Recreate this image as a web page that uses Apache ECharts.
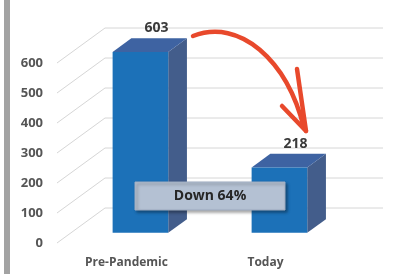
<!DOCTYPE html>
<html>
<head>
<meta charset="utf-8">
<script src="https://cdn.jsdelivr.net/npm/echarts@6/dist/echarts.min.js"></script>
<style>
  html, body { margin: 0; padding: 0; background: #ffffff; }
  #riders_chart { width: 395px; height: 274px; }
</style>
</head>
<body>
<div id="riders_chart"></div>
<script>
var categories = ['Pre-Pandemic', 'Today'];
var values = [603, 218];
var yTicks = [0, 100, 200, 300, 400, 500, 600];
var noteText = 'Down 64%';

// depth of the floor (front edge -> back wall), and where the bars sit in it
var DEPTH = [48, -35];
var BAR_SHIFT = 0.29;
var BAR_DEPTH = 0.39;

function wall_lines(params, api) {
    var cs = params.coordSys;
    var p = api.coord([0, api.value(1)]);
    return {
        type: 'polyline',
        shape: { points: [
            [cs.x, p[1]],
            [cs.x + DEPTH[0], p[1] + DEPTH[1]],
            [cs.x + cs.width + DEPTH[0], p[1] + DEPTH[1]]
        ] },
        style: { stroke: '#d6d6d6', lineWidth: 1, fill: null },
        silent: true
    };
}

function bar_3d(params, api) {
    var top = api.coord([api.value(0), api.value(1)]);
    var base = api.coord([api.value(0), 0]);
    var w = api.size([1, 0])[0] * 0.4;
    var sx = DEPTH[0] * BAR_SHIFT, sy = DEPTH[1] * BAR_SHIFT;
    var dx = DEPTH[0] * BAR_DEPTH, dy = DEPTH[1] * BAR_DEPTH;
    var x0 = top[0] - w / 2 + sx, x1 = x0 + w;
    var y0 = top[1] + sy, y1 = base[1] + sy;
    return {
        type: 'group',
        children: [
            { type: 'polygon', shape: { points: [[x1, y0], [x1 + dx, y0 + dy], [x1 + dx, y1 + dy], [x1, y1]] },
              style: { fill: '#435d8b' } },
            { type: 'polygon', shape: { points: [[x0, y0], [x0 + dx, y0 + dy], [x1 + dx, y0 + dy], [x1, y0]] },
              style: { fill: '#3e63a2' } },
            { type: 'rect', shape: { x: x0, y: y0, width: w, height: y1 - y0 },
              style: { fill: '#1c71b8' } },
            { type: 'text', x: top[0] + sx + 16, y: y0 + dy - 3,
              style: { text: String(api.value(1)), align: 'center', verticalAlign: 'bottom',
                       font: 'bold 14px "Open Sans"', fill: '#3a3a3a' } }
        ]
    };
}

var chart = echarts.init(document.getElementById('riders_chart'));

var arrowStyle = { stroke: '#e8492c', lineWidth: 4.5, fill: null, lineCap: 'round' };

var option = {
    animation: false,
    backgroundColor: '#ffffff',
    grid: { left: 57, right: 60, top: 63, bottom: 31 },
    xAxis: {
        type: 'category',
        data: categories,
        axisLine: { show: false },
        axisTick: { show: false },
        axisLabel: { margin: 14, color: '#555555', fontWeight: 'bold', fontSize: 12, fontFamily: 'Open Sans' }
    },
    yAxis: {
        type: 'value',
        min: 0,
        max: 600,
        interval: 100,
        axisLine: { show: false },
        axisTick: { show: false },
        splitLine: { show: false },
        axisLabel: { margin: 14, padding: [4, 0, 0, 0], color: '#555555', fontWeight: 'bold', fontSize: 13, fontFamily: 'Open Sans' }
    },
    series: [
        { type: 'custom', renderItem: wall_lines, data: yTicks.map(function (t) { return [0, t]; }), z: 1, silent: true },
        { type: 'custom', renderItem: bar_3d, data: categories.map(function (c, i) { return [i, values[i]]; }), z: 3 }
    ],
    graphic: [
        { type: 'rect', shape: { x: 4, y: 0, width: 6, height: 274 }, style: { fill: '#a3a3a3' }, z: 10 },
        { type: 'rect', shape: { x: 135, y: 182, width: 150, height: 28 }, z: 20,
          style: { fill: '#b4c1d3', stroke: '#9fadc2', lineWidth: 1,
                   shadowBlur: 3, shadowOffsetX: 2, shadowOffsetY: 2, shadowColor: 'rgba(0,0,0,0.35)' } },
        { type: 'text', x: 210, y: 196, z: 21,
          style: { text: noteText, align: 'center', verticalAlign: 'middle',
                   font: 'bold 14px "Open Sans"', fill: '#262626' } },
        { type: 'bezierCurve', z: 30, style: arrowStyle,
          shape: { x1: 193, y1: 36, cpx1: 240, cpy1: 18, cpx2: 287, cpy2: 60, x2: 304, y2: 128 } },
        { type: 'line', z: 30, style: arrowStyle, shape: { x1: 306, y1: 131, x2: 282, y2: 106 } },
        { type: 'line', z: 30, style: arrowStyle, shape: { x1: 306, y1: 131, x2: 297, y2: 69 } }
    ]
};

chart.setOption(option);
</script>
</body>
</html>
